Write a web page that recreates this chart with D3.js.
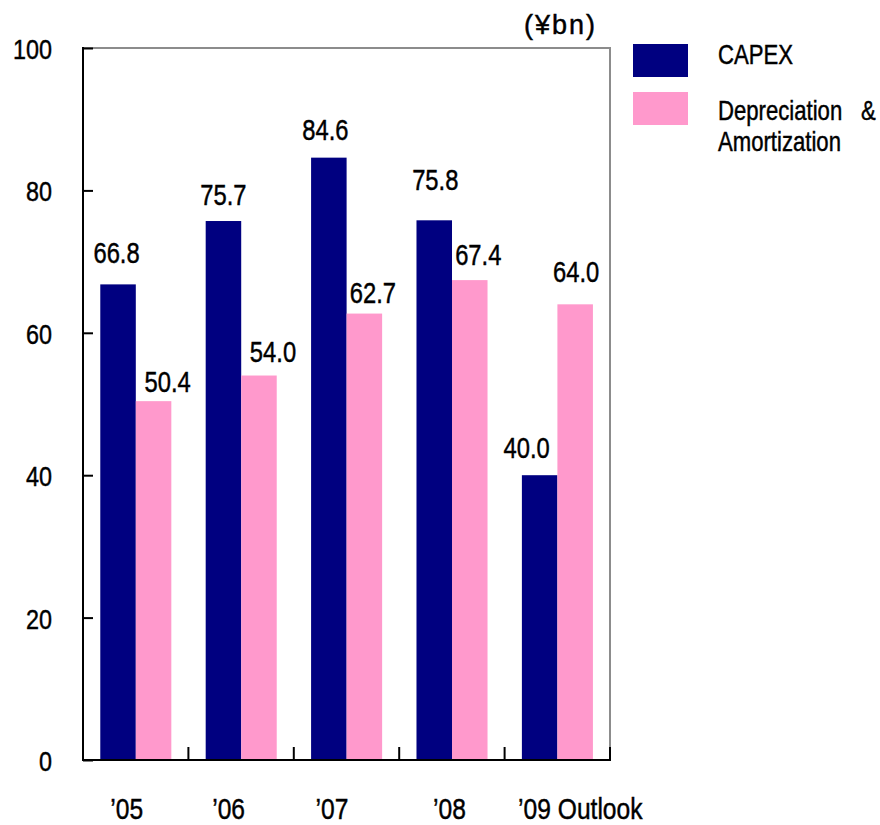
<!DOCTYPE html>
<html>
<head>
<meta charset="utf-8">
<script src="https://cdn.jsdelivr.net/npm/d3@7"></script>
<style>
  html, body { margin: 0; padding: 0; background: #ffffff; }
  svg { display: block; }
  text { font-family: "Liberation Sans", Arial, sans-serif; fill: #000; stroke: #000; stroke-width: 0.45px; }
</style>
</head>
<body>
<svg id="chart" width="880" height="825"></svg>
<script>
// Capital expenditure vs. depreciation & amortization, ¥bn
const categories = ["\u201905", "\u201906", "\u201907", "\u201908", "\u201909 Outlook"];
const capex = [66.8, 75.7, 84.6, 75.8, 40.0];
const depreciation = [50.4, 54.0, 62.7, 67.4, 64.0];
const yTicks = [0, 20, 40, 60, 80, 100];
const seriesNames = ["CAPEX", "Depreciation & Amortization"];
const unitLabel = "(\u00a5bn)";

// Hand-placed label offsets [dx, dy] from each bar's top centre
const capexLabelNudge = [[-1.5, -21], [0, -16], [-3.5, -18], [1, -30], [-13, -17]];
const depLabelNudge = [[14, -9], [14, -13.5], [8.5, -10.5], [8.5, -15], [1, -22]];
// Category label offsets from band centre
const catLabelNudge = [-9, -12.5, -14.5, -2.5, 23];

const colors = { capex: "#000080", dep: "#FF99CC" };
const NARROW = 0.82; // condensed type: horizontal squeeze of the sans face

const plot = { left: 83, right: 610, top: 48, bottom: 760 };
const svg = d3.select("#chart");

const x0 = d3.scaleBand().domain(categories).range([plot.left, plot.right]).padding(0);
const x1 = d3.scaleBand().domain(["capex", "dep"])
  .range([x0.bandwidth() * 0.164, x0.bandwidth() * 0.838]).padding(0);
const y = d3.scaleLinear().domain([0, 100]).range([plot.bottom, plot.top]);

function narrowText(parent, x, yy, str, size, anchor) {
  return parent.append("text")
    .attr("transform", `translate(${x},${yy}) scale(${NARROW},1)`)
    .attr("text-anchor", anchor || "middle")
    .style("font-size", size + "px")
    .text(str);
}

// Plot frame (top and right edges)
svg.append("path")
  .attr("d", `M${plot.left},${plot.top}H${plot.right}V${plot.bottom}`)
  .attr("fill", "none").attr("stroke", "#8c8c8c").attr("stroke-width", 2);

// Bars
const groups = svg.append("g").selectAll("g")
  .data(categories).join("g")
  .attr("transform", d => `translate(${x0(d)},0)`);

groups.append("rect")
  .attr("x", x1("capex")).attr("width", x1.bandwidth())
  .attr("y", (d, i) => y(capex[i]))
  .attr("height", (d, i) => y(0) - y(capex[i]))
  .attr("fill", colors.capex);

groups.append("rect")
  .attr("x", x1("dep")).attr("width", x1.bandwidth())
  .attr("y", (d, i) => y(depreciation[i]))
  .attr("height", (d, i) => y(0) - y(depreciation[i]))
  .attr("fill", colors.dep);

// Value labels
const labels = svg.append("g");
categories.forEach((c, i) => {
  const cx = x0(c) + x1("capex") + x1.bandwidth() / 2;
  narrowText(labels, cx + capexLabelNudge[i][0], y(capex[i]) + capexLabelNudge[i][1],
    capex[i].toFixed(1), 29);
  const dx = x0(c) + x1("dep") + x1.bandwidth() / 2;
  narrowText(labels, dx + depLabelNudge[i][0], y(depreciation[i]) + depLabelNudge[i][1],
    depreciation[i].toFixed(1), 29);
});

// Y axis with inward ticks
const yAxis = svg.append("g")
  .attr("transform", `translate(${plot.left},0)`)
  .call(d3.axisLeft(y).tickValues(yTicks).tickSize(-10).tickFormat(d3.format("d")));
yAxis.select(".domain").remove();
yAxis.selectAll(".tick line").attr("stroke", "#000").attr("stroke-width", 2);
yAxis.selectAll(".tick text")
  .attr("x", null).attr("dy", null)
  .attr("transform", `translate(-31,10.4) scale(${NARROW},1)`)
  .attr("text-anchor", "end")
  .style("font-size", "28.5px")
  .attr("fill", "#000");
svg.append("line")
  .attr("x1", plot.left).attr("x2", plot.left)
  .attr("y1", plot.top - 1).attr("y2", plot.bottom + 1)
  .attr("stroke", "#000").attr("stroke-width", 2);

// X axis: baseline, boundary ticks pointing up, category labels
svg.append("line")
  .attr("x1", plot.left - 1).attr("x2", plot.right + 1)
  .attr("y1", plot.bottom).attr("y2", plot.bottom)
  .attr("stroke", "#000").attr("stroke-width", 2);
const bounds = categories.slice(1).map(c => x0(c)).concat([plot.right]);
svg.append("g").selectAll("line").data(bounds).join("line")
  .attr("x1", d => d).attr("x2", d => d)
  .attr("y1", plot.bottom).attr("y2", plot.bottom - 13)
  .attr("stroke", "#000").attr("stroke-width", 2);

const xLabels = svg.append("g");
categories.forEach((c, i) => {
  narrowText(xLabels, x0(c) + x0.bandwidth() / 2 + catLabelNudge[i], 819, c, 30);
});

// Unit label
svg.append("text")
  .attr("x", 524).attr("y", 34)
  .style("font-size", "27px")
  .style("letter-spacing", "2px")
  .text(unitLabel);

// Legend
const legend = svg.append("g");
legend.append("rect").attr("x", 633).attr("y", 44).attr("width", 55).attr("height", 33)
  .attr("fill", colors.capex);
legend.append("rect").attr("x", 633).attr("y", 92).attr("width", 55).attr("height", 33)
  .attr("fill", colors.dep);
narrowText(legend, 718, 64, seriesNames[0], 27, "start");
const depWords = seriesNames[1].split(" ");
narrowText(legend, 718, 120, depWords[0], 27, "start");
narrowText(legend, 861, 120, depWords[1], 27, "start");
narrowText(legend, 718, 151, depWords[2], 27, "start");
</script>
</body>
</html>
